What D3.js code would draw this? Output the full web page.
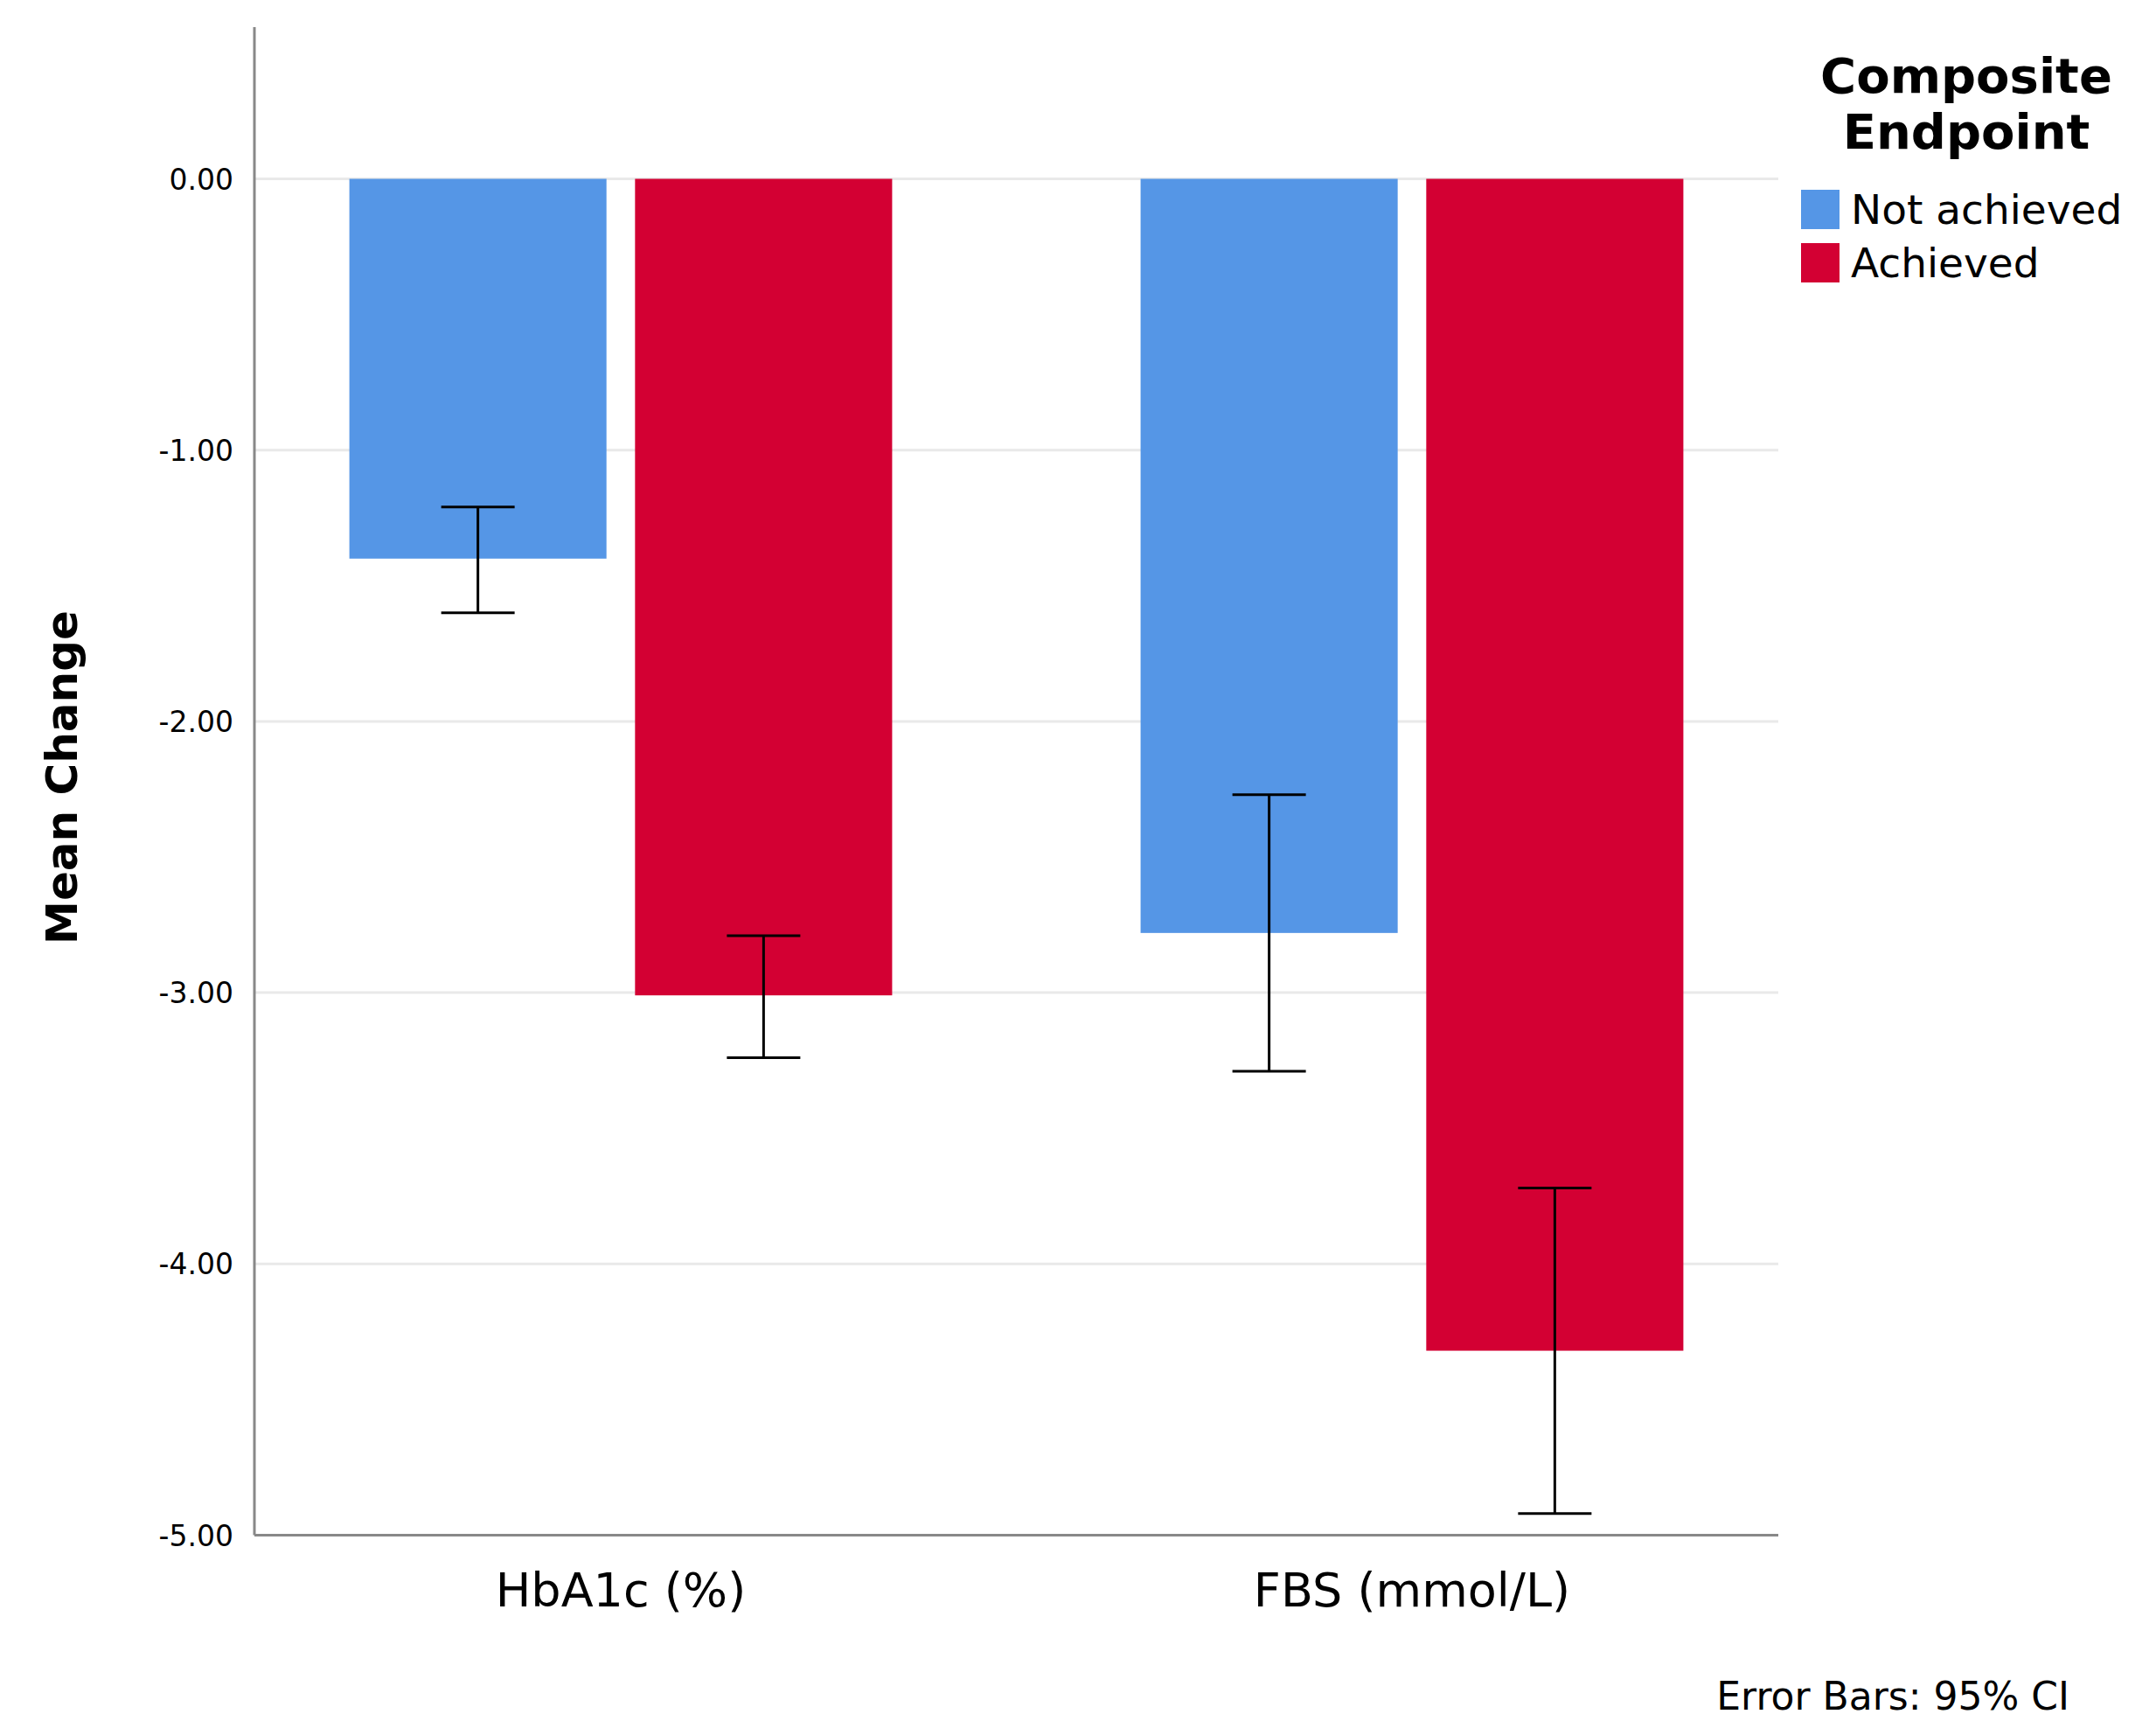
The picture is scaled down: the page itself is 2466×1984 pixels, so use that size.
<!DOCTYPE html>
<html>
<head>
<meta charset="utf-8">
<script src="https://cdn.jsdelivr.net/npm/d3@7"></script>
<style>
  body { margin: 0; background: #fff; }
  text { font-family: "DejaVu Sans", sans-serif; fill: #000; }
</style>
</head>
<body>
<div id="chart"></div>
<script>
const width = 2466;
const height = 1984;

// data
const categories = ['HbA1c (%)', 'FBS (mmol/L)'];
const groups = ['Not achieved', 'Achieved'];
const means = [[-1.40, -3.01], [-2.78, -4.32]];
const ci_upper = [[-1.21, -2.79], [-2.27, -3.72]];
const ci_lower = [[-1.60, -3.24], [-3.29, -4.92]];
const y_ticks = [0, -1, -2, -3, -4, -5];
const colors = ['#5596e6', '#d30033'];

const x_scale = d3.scaleBand()
  .domain(categories)
  .range([291, 2034])
  .paddingInner(0.314)
  .paddingOuter(0.12);
const sub_scale = d3.scaleBand()
  .domain(groups)
  .range([0, x_scale.bandwidth()])
  .paddingInner(0.1);
const y_scale = d3.scaleLinear()
  .domain([0, -5])
  .range([204.5, 1755.5]);

const svg = d3.select('#chart')
  .append('svg')
    .attr('width', width)
    .attr('height', height);

// gridlines
svg.selectAll('line.grid')
    .data(y_ticks.slice(0, -1))
  .join('line')
    .attr('class', 'grid')
    .attr('x1', 291).attr('x2', 2034)
    .attr('y1', d => y_scale(d)).attr('y2', d => y_scale(d))
    .attr('stroke', '#e9e9e9').attr('stroke-width', 3);

let cells = [];
categories.forEach((c, i) => groups.forEach((g, j) => cells.push({
  cat: c, grp: g, idx: j, mean: means[i][j], hi: ci_upper[i][j], lo: ci_lower[i][j]
})));

svg.selectAll('rect.bar')
    .data(cells)
  .join('rect')
    .attr('class', 'bar')
    .attr('x', d => x_scale(d.cat) + sub_scale(d.grp))
    .attr('width', sub_scale.bandwidth())
    .attr('y', y_scale(0))
    .attr('height', d => y_scale(d.mean) - y_scale(0))
    .attr('fill', d => colors[d.idx]);

// error bars
const err = svg.selectAll('g.err')
    .data(cells)
  .join('g')
    .attr('class', 'err')
    .attr('transform', d => 'translate(' + (x_scale(d.cat) + sub_scale(d.grp) + sub_scale.bandwidth() / 2) + ',0)');
err.append('line')
  .attr('y1', d => y_scale(d.hi)).attr('y2', d => y_scale(d.lo))
  .attr('stroke', '#000').attr('stroke-width', 3);
err.selectAll('line.cap')
    .data(d => [d.hi, d.lo])
  .join('line')
    .attr('class', 'cap')
    .attr('x1', -42).attr('x2', 42)
    .attr('y1', d => y_scale(d)).attr('y2', d => y_scale(d))
    .attr('stroke', '#000').attr('stroke-width', 3);

// axes
svg.append('line')
  .attr('x1', 291).attr('x2', 291).attr('y1', 31).attr('y2', y_scale(-5))
  .attr('stroke', '#888').attr('stroke-width', 3);
svg.append('line')
  .attr('x1', 291).attr('x2', 2034).attr('y1', y_scale(-5)).attr('y2', y_scale(-5))
  .attr('stroke', '#888').attr('stroke-width', 3);

svg.selectAll('text.ytick')
    .data(y_ticks)
  .join('text')
    .attr('class', 'ytick')
    .attr('x', 267)
    .attr('y', d => y_scale(d) + 12)
    .attr('text-anchor', 'end')
    .attr('font-size', 33)
    .text(d => d3.format('.2f')(d).replace('−', '-'));

svg.selectAll('text.xtick')
    .data(categories)
  .join('text')
    .attr('class', 'xtick')
    .attr('x', d => x_scale(d) + x_scale.bandwidth() / 2)
    .attr('y', 1837)
    .attr('text-anchor', 'middle')
    .attr('font-size', 54)
    .text(d => d);

svg.append('text')
  .attr('transform', 'translate(88,889) rotate(-90)')
  .attr('text-anchor', 'middle')
  .attr('font-size', 50)
  .attr('font-weight', 'bold')
  .text('Mean Change');

// legend
svg.selectAll('text.ltitle')
    .data(['Composite', 'Endpoint'])
  .join('text')
    .attr('class', 'ltitle')
    .attr('x', 2249)
    .attr('y', (d, i) => 106 + i * 64)
    .attr('text-anchor', 'middle')
    .attr('font-size', 56)
    .attr('font-weight', 'bold')
    .text(d => d);

const leg = svg.selectAll('g.leg')
    .data(groups)
  .join('g')
    .attr('class', 'leg')
    .attr('transform', (d, i) => 'translate(2060,' + (217 + i * 61) + ')');
leg.append('rect')
  .attr('width', 44).attr('height', 45)
  .attr('fill', (d, i) => colors[i]);
leg.append('text')
  .attr('x', 57).attr('y', 39)
  .attr('font-size', 47)
  .text(d => d);

svg.append('text')
  .attr('x', 2367).attr('y', 1955)
  .attr('text-anchor', 'end')
  .attr('font-size', 44)
  .text('Error Bars: 95% CI');
</script>
</body>
</html>
